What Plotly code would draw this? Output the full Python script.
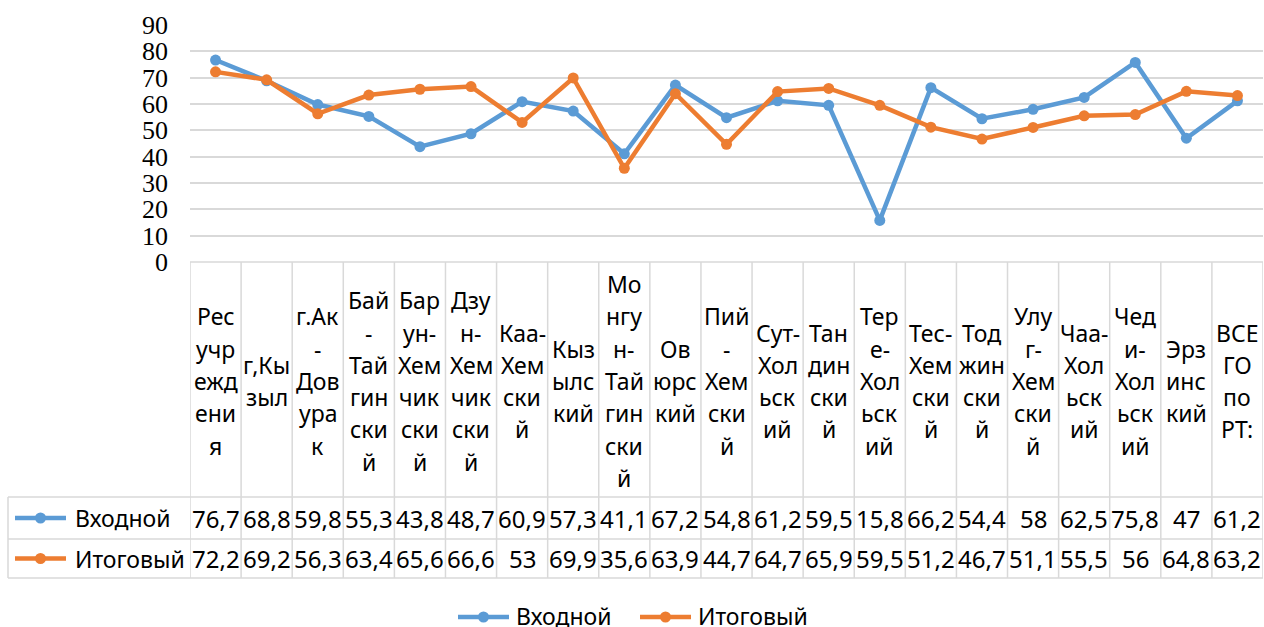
import plotly.graph_objects as go

# districts (full names) and the wrapped labels shown in the table header
categories = ["Ресучреждения", "г,Кызыл", "г.Ак-Довурак", "Бай-Тайгинский",
              "Барун-Хемчикский", "Дзун-Хемчикский", "Каа-Хемский", "Кызылский",
              "Монгун-Тайгинский", "Овюрский", "Пий-Хемский", "Сут-Хольский",
              "Тандинский", "Тере-Хольский", "Тес-Хемский", "Тоджинский",
              "Улуг-Хемский", "Чаа-Хольский", "Чеди-Хольский", "Эрзинский",
              "ВСЕГО по РТ:"]
labels = ["Рес<br>учр<br>ежд<br>ени<br>я", "г,Кы<br>зыл", "г.Ак<br>-<br>Дов<br>ура<br>к",
          "Бай<br>-<br>Тай<br>гин<br>ски<br>й", "Бар<br>ун-<br>Хем<br>чик<br>ски<br>й",
          "Дзу<br>н-<br>Хем<br>чик<br>ски<br>й", "Каа-<br>Хем<br>ски<br>й",
          "Кыз<br>ылс<br>кий", "Мо<br>нгу<br>н-<br>Тай<br>гин<br>ски<br>й",
          "Ов<br>юрс<br>кий", "Пий<br>-<br>Хем<br>ски<br>й", "Сут-<br>Хол<br>ьск<br>ий",
          "Тан<br>дин<br>ски<br>й", "Тер<br>е-<br>Хол<br>ьск<br>ий", "Тес-<br>Хем<br>ски<br>й",
          "Тод<br>жин<br>ски<br>й", "Улу<br>г-<br>Хем<br>ски<br>й", "Чаа-<br>Хол<br>ьск<br>ий",
          "Чед<br>и-<br>Хол<br>ьск<br>ий", "Эрз<br>инс<br>кий", "ВСЕ<br>ГО<br>по<br>РТ:"]

vhodnoy = [76.7, 68.8, 59.8, 55.3, 43.8, 48.7, 60.9, 57.3, 41.1, 67.2, 54.8,
           61.2, 59.5, 15.8, 66.2, 54.4, 58, 62.5, 75.8, 47, 61.2]
itogovy = [72.2, 69.2, 56.3, 63.4, 65.6, 66.6, 53, 69.9, 35.6, 63.9, 44.7,
           64.7, 65.9, 59.5, 51.2, 46.7, 51.1, 55.5, 56, 64.8, 63.2]

series = [("Входной", vhodnoy, "#5B9BD5"), ("Итоговый", itogovy, "#ED7D31")]

W, H = 1264, 627
GRID = "#D9D9D9"
SANS = "Noto Sans"


def px(p):
    return p / W


def py(p):
    return 1 - p / H


def fmt(v):
    return f"{v:g}".replace(".", ",")


def key(shapes, x, y, color):
    # line-with-marker legend symbol
    shapes.append(dict(type="line", xref="paper", yref="paper", x0=px(x), x1=px(x + 51),
                       y0=py(y), y1=py(y), line=dict(color=color, width=4.5)))
    shapes.append(dict(type="circle", xref="paper", yref="paper", x0=px(x + 20), x1=px(x + 31),
                       y0=py(y - 5.5), y1=py(y + 5.5), fillcolor=color, line=dict(width=0)))


fig = go.Figure()
for name, vals, color in series:
    fig.add_trace(go.Scatter(x=categories, y=vals, name=name, mode="lines+markers",
                             line=dict(color=color, width=4.5),
                             marker=dict(color=color, size=11)))

shapes = []
annotations = []

# table rows: header 262-497, values 497-539, 539-578
row_y = [518, 558.5]
for y0, x0 in [(262, 190), (497, 8), (539, 8), (578, 8)]:
    shapes.append(dict(type="line", xref="paper", yref="paper", x0=px(x0), x1=px(1263),
                       y0=py(y0), y1=py(y0), line=dict(color=GRID, width=1.5)))
for i in range(len(categories) + 1):
    shapes.append(dict(type="line", xref="x", yref="paper", x0=i - 0.5, x1=i - 0.5,
                       y0=py(262), y1=py(578), line=dict(color=GRID, width=1.5)))
shapes.append(dict(type="line", xref="paper", yref="paper", x0=px(8), x1=px(8),
                   y0=py(497), y1=py(578), line=dict(color=GRID, width=1.5)))

# header labels, one annotation per line so the line spacing matches
LINE = 32.3
for cat, lab in zip(categories, labels):
    parts = lab.split("<br>")
    top = 381 - LINE * (len(parts) - 1) / 2
    for k, part in enumerate(parts):
        annotations.append(dict(x=cat, y=py(top + k * LINE), xref="x", yref="paper", text=part,
                                showarrow=False, xanchor="center", yanchor="middle",
                                font=dict(family=SANS, size=23, color="#000000")))

for (name, vals, color), yy in zip(series, row_y):
    key(shapes, 15, yy, color)
    annotations.append(dict(x=px(73), y=py(yy), xref="paper", yref="paper", text=name,
                            showarrow=False, xanchor="left", yanchor="middle",
                            font=dict(family=SANS, size=23, color="#000000")))
    for cat, v in zip(categories, vals):
        annotations.append(dict(x=cat, y=py(yy), xref="x", yref="paper", text=fmt(v),
                                showarrow=False, xanchor="center", yanchor="middle",
                                font=dict(family=SANS, size=24, color="#000000")))

# bottom legend
for (name, vals, color), lx in zip(series, [458, 640]):
    key(shapes, lx, 617, color)
    annotations.append(dict(x=px(lx + 56), y=py(616), xref="paper", yref="paper", text=name,
                            showarrow=False, xanchor="left", yanchor="middle",
                            font=dict(family=SANS, size=23, color="#000000")))

fig.update_layout(
    width=W, height=H, autosize=False,
    margin=dict(l=0, r=0, t=0, b=0, autoexpand=False),
    paper_bgcolor="white", plot_bgcolor="white",
    xaxis=dict(domain=[px(190), px(1263)], range=[-0.5, len(categories) - 0.5],
               showticklabels=False, showgrid=False, zeroline=False, automargin=False,
               categoryorder="array", categoryarray=categories),
    yaxis=dict(domain=[py(262), py(25)], range=[0, 90], dtick=10, automargin=False,
               showgrid=True, gridcolor=GRID, gridwidth=1.5, zeroline=False,
               ticklabelstandoff=21,
               tickfont=dict(family="Liberation Serif", size=26, color="#000000")),
    showlegend=False,
    shapes=shapes, annotations=annotations,
)

fig.write_html("out.html", config={"displayModeBar": False},
               post_script="document.body.style.margin='0';document.body.style.overflow='hidden';")
